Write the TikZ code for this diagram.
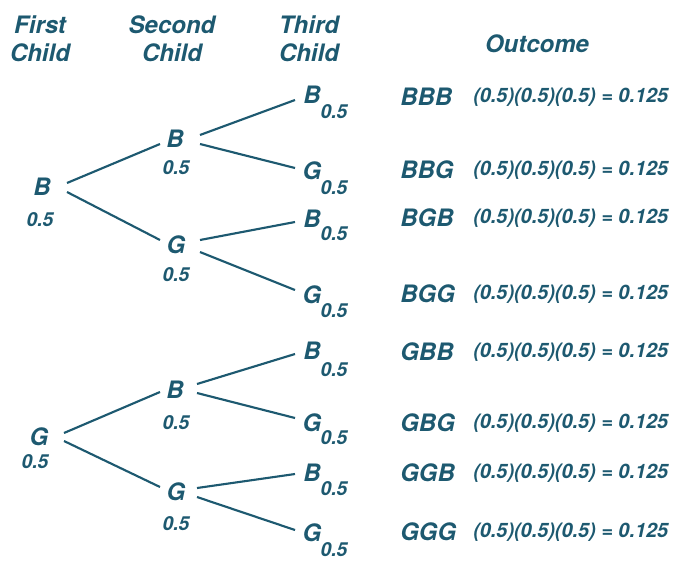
\documentclass[tikz,border=0pt]{standalone}
\usepackage{fontspec}
\setmainfont{TeX Gyre Heros}
\definecolor{tc}{HTML}{1D5970}
\begin{document}
\begin{tikzpicture}[x=0.75pt,y=-0.75pt,
  every node/.style={text=tc, inner sep=0pt},
  head/.style={font=\fontsize{18}{21}\selectfont\bfseries\itshape, align=center},
  kid/.style={font=\fontsize{18}{20}\selectfont\bfseries\itshape},
  prob/.style={font=\fontsize{14.5}{16}\selectfont\bfseries\itshape},
  res/.style={font=\fontsize{18}{20}\selectfont\bfseries\itshape, anchor=west},
  calc/.style={font=\fontsize{14.9}{16}\selectfont\bfseries\itshape, anchor=west},
  branch/.style={draw=tc, line width=1.6pt}]
\useasboundingbox (0,0) rectangle (673,560);

% column headings
\node[head] (h1) at (40,39) {First\\Child};
\node[head] (h2) at (172,39) {Second\\Child};
\node[head] (h3) at (309,39) {Third\\Child};
\node[head] (h4) at (537,44) {Outcome};

% first child
\node[kid] (b) at (42,187) {B};
\node[prob] (pb) at (40,220) {0.5};
\node[kid] (g) at (39,437) {G};
\node[prob] (pg) at (35,462) {0.5};

% second child
\node[kid] (bb) at (175,139) {B};
\node[prob] (pbb) at (176,168) {0.5};
\node[kid] (bg) at (176,245) {G};
\node[prob] (pbg) at (176,275) {0.5};
\node[kid] (gb) at (175,390) {B};
\node[prob] (pgb) at (176,423) {0.5};
\node[kid] (gg) at (176,492) {G};
\node[prob] (pgg) at (176,524) {0.5};

% third child, with subscript probabilities
\node[kid] (bbb) at (312,95) {B};
\node[prob] (pbbb) at (334,112) {0.5};
\node[kid] (bbg) at (312,171) {G};
\node[prob] (pbbg) at (334,188) {0.5};
\node[kid] (bgb) at (312,219) {B};
\node[prob] (pbgb) at (334,234) {0.5};
\node[kid] (bgg) at (312,295) {G};
\node[prob] (pbgg) at (334,311) {0.5};
\node[kid] (gbb) at (312,351) {B};
\node[prob] (pgbb) at (334,370) {0.5};
\node[kid] (gbg) at (312,423) {G};
\node[prob] (pgbg) at (334,438) {0.5};
\node[kid] (ggb) at (312,473) {B};
\node[prob] (pggb) at (334,489) {0.5};
\node[kid] (ggg) at (312,533) {G};
\node[prob] (pggg) at (334,550) {0.5};

% outcomes and their probabilities
\foreach \o/\y in {BBB/97,BBG/170,BGB/218,BGG/294,GBB/352,GBG/423,GGB/473,GGG/532}{
  \node[res] (o\o) at (400,\y) {\o};
  \node[calc] (c\o) at (473,\y) {(0.5)(0.5)(0.5) = 0.125};
}

% branches
\draw[branch] ([shift={(25,-4)}]b.center) -- ([shift={(-15,5)}]bb.center);
\draw[branch] ([shift={(25,5)}]b.center) -- ([shift={(-16,-5)}]bg.center);
\draw[branch] ([shift={(25,-4)}]bb.center) -- ([shift={(-17,5)}]bbb.center);
\draw[branch] ([shift={(25,5)}]bb.center) -- ([shift={(-17,-3)}]bbg.center);
\draw[branch] ([shift={(24,-5)}]bg.center) -- ([shift={(-17,3)}]bgb.center);
\draw[branch] ([shift={(24,7)}]bg.center) -- ([shift={(-17,-5)}]bgg.center);
\draw[branch] ([shift={(25,-4)}]g.center) -- ([shift={(-15,2)}]gb.center);
\draw[branch] ([shift={(25,4)}]g.center) -- ([shift={(-16,-5)}]gg.center);
\draw[branch] ([shift={(22,-6)}]gb.center) -- ([shift={(-17,3)}]gbb.center);
\draw[branch] ([shift={(22,3)}]gb.center) -- ([shift={(-17,-5)}]gbg.center);
\draw[branch] ([shift={(21,-4)}]gg.center) -- ([shift={(-17,1)}]ggb.center);
\draw[branch] ([shift={(21,5)}]gg.center) -- ([shift={(-17,-3)}]ggg.center);
\end{tikzpicture}
\end{document}
